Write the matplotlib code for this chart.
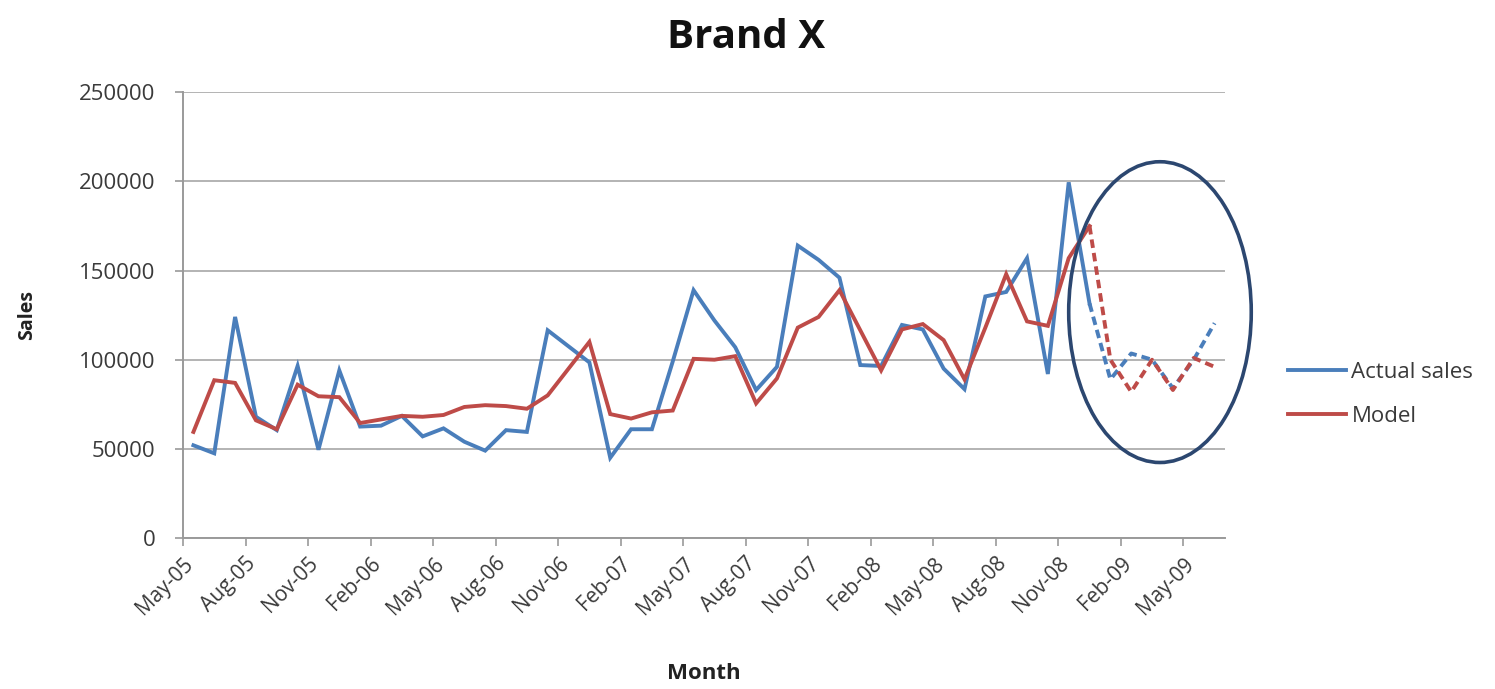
import matplotlib
matplotlib.use("Agg")
import matplotlib.pyplot as plt
from matplotlib.patches import Ellipse
import numpy as np

plt.rcParams['font.family'] = ['Open Sans', 'DejaVu Sans']

# ---- data ----
tick_labels = ["May-05", "Aug-05", "Nov-05", "Feb-06", "May-06", "Aug-06", "Nov-06",
               "Feb-07", "May-07", "Aug-07", "Nov-07", "Feb-08", "May-08", "Aug-08",
               "Nov-08", "Feb-09", "May-09"]

actual_sales = [52000, 47500, 124000, 68000, 60500, 96500, 49500, 94000, 62500, 63000,
                68500, 57000, 61500, 54000, 49000, 60500, 59500, 116500, 107500, 98500,
                45000, 61000, 61000, 99000, 139000, 122000, 107000, 83000, 96000, 164000,
                156000, 146000, 97000, 96500, 119500, 117000, 95000, 83500, 135500, 138000,
                157000, 92000, 199500, 131500, 89000, 103500, 100000, 84000, 100000, 120500]

model = [59500, 88500, 87000, 66000, 61000, 86000, 79500, 79000, 64500, 66500,
         68500, 68000, 69000, 73500, 74500, 74000, 72500, 80000, 95000, 110000,
         69500, 67000, 70500, 71500, 100500, 100000, 102000, 75500, 89500, 118000,
         124000, 139000, 116500, 94000, 117000, 120000, 111000, 89000, 118000, 148000,
         121500, 119000, 157000, 175000, 100000, 82000, 100000, 83000, 101000, 96000]

forecast_start = 43  # index where the dashed (forecast) part begins

BLUE = "#4A7EBB"
RED = "#BE4B48"
GRID = "#B3B3B3"
TXT = "#3A3A3A"

fig = plt.figure(figsize=(14.95, 6.89), dpi=100)
ax = fig.add_axes([183/1495, 151/689, (1225-183)/1495, (538-92.3)/689])

n = len(actual_sales)
x = np.arange(n)

ax.plot(x[:forecast_start+1], actual_sales[:forecast_start+1], color=BLUE, lw=2.8,
        solid_joinstyle='miter', label="Actual sales", zorder=3)
ax.plot(x[:forecast_start+1], model[:forecast_start+1], color=RED, lw=2.8,
        solid_joinstyle='miter', label="Model", zorder=3)
ax.plot(x[forecast_start:], actual_sales[forecast_start:], color=BLUE, lw=2.8,
        dashes=(2.2, 1.3), zorder=3)
ax.plot(x[forecast_start:], model[forecast_start:], color=RED, lw=2.8,
        dashes=(2.2, 1.3), zorder=3)

ax.set_xlim(-0.5, n - 0.5)
ax.set_ylim(0, 250000)
ax.set_yticks(np.arange(0, 250001, 50000))
ax.set_yticklabels([str(v) for v in range(0, 250001, 50000)], fontsize=16, color=TXT)
ax.set_xticks(np.arange(-0.5, n - 0.5, 3)[:len(tick_labels)])
ax.set_xticklabels(tick_labels, rotation=45, ha='right', rotation_mode='anchor',
                   fontsize=15, color=TXT)

ax.grid(axis='y', color=GRID, lw=1.4)
ax.set_axisbelow(True)
for s in ['top', 'right']:
    ax.spines[s].set_visible(False)
for s in ['left', 'bottom']:
    ax.spines[s].set_color("#9A9A9A")
    ax.spines[s].set_linewidth(1.4)
ax.tick_params(axis='both', direction='out', length=6, width=1.2, color="#9A9A9A")
ax.tick_params(axis='x', pad=5)
ax.tick_params(axis='y', pad=14)

ax.set_xlabel("Month", fontsize=16, fontweight='bold', color="#222222", labelpad=32)
ax.set_ylabel("Sales", fontsize=14, fontweight='bold', color="#222222", labelpad=30)

fig.text(0.499, 0.945, "Brand X", ha='center', va='center', fontsize=29,
         fontweight='bold', color="#111111")

# highlight ellipse around forecast period
ell = Ellipse((46.38, 126700), width=8.76, height=168700, fill=False,
              edgecolor="#2C4770", lw=2.6, clip_on=False, zorder=4)
ax.add_patch(ell)

leg = ax.legend(loc='center left', bbox_to_anchor=(1.052, 0.322), frameon=False,
                fontsize=16, handlelength=2.6, handletextpad=0.25, labelspacing=1.05,
                borderaxespad=0)
for t in leg.get_texts():
    t.set_color(TXT)

fig.savefig("out.png", dpi=100, facecolor="white")
